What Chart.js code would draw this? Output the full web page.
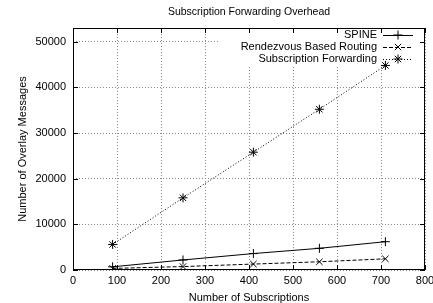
<!DOCTYPE html>
<html>
<head>
<meta charset="utf-8">
<script src="https://cdn.jsdelivr.net/npm/chart.js@4/dist/chart.umd.min.js"></script>
<style>
  html, body { margin: 0; padding: 0; background: #fff; }
  #wrap { width: 433px; height: 303px; }
</style>
</head>
<body>
<div id="wrap"><canvas id="myChart" width="433" height="303"></canvas></div>
<script>
// values
let subscriptions = [90, 250, 410, 560, 710];
let spine = [700, 2200, 3600, 4750, 6200];
let rendezvous = [350, 750, 1300, 1800, 2450];
let subForwarding = [5600, 15800, 25800, 35200, 44800];

let xTicks = [0, 100, 200, 300, 400, 500, 600, 700, 800];
let yTicks = [0, 10000, 20000, 30000, 40000, 50000];

let seriesNames = ["SPINE", "Rendezvous Based Routing", "Subscription Forwarding"];
let chartTitle = "Subscription Forwarding Overhead";
let xTitle = "Number of Subscriptions";
let yTitle = "Number of Overlay Messages";

let fontName = "'Liberation Sans', Arial, sans-serif";

function toPoints(ys) {
    let pts = [];
    for (let i = 0; i < subscriptions.length; i++) {
        pts.push({x: subscriptions[i], y: ys[i]});
    }
    return pts;
}

let dashes = [[], [4, 2], [1, 2]];
let markers = ["cross", "crossRot", "star"];

// gnuplot-like frame, inward ticks, title and legend
let gnuFrame = {
    id: "gnuFrame",
    beforeDatasetsDraw(chart) {
        let ctx = chart.ctx;
        ctx.save();
        ctx.fillStyle = "#fff";
        ctx.fillRect(218, 29, chart.chartArea.right - 219, 36);
        ctx.restore();
    },
    afterDraw(chart) {
        let ctx = chart.ctx;
        let a = chart.chartArea;
        let xs = chart.scales.x;
        let ys = chart.scales.y;
        ctx.save();
        ctx.strokeStyle = "#000";
        ctx.lineWidth = 1;
        ctx.setLineDash([]);
        ctx.strokeRect(a.left + 0.5, a.top + 0.5, a.right - a.left - 1, a.bottom - a.top - 1);
        ctx.beginPath();
        xTicks.forEach(v => {
            let px = Math.round(xs.getPixelForValue(v)) + 0.5;
            ctx.moveTo(px, a.bottom); ctx.lineTo(px, a.bottom - 5);
            ctx.moveTo(px, a.top); ctx.lineTo(px, a.top + 5);
        });
        yTicks.forEach(v => {
            let py = Math.round(ys.getPixelForValue(v)) + 0.5;
            ctx.moveTo(a.left, py); ctx.lineTo(a.left + 5, py);
            ctx.moveTo(a.right, py); ctx.lineTo(a.right - 5, py);
        });
        ctx.stroke();

        ctx.fillStyle = "#000";
        ctx.font = "10.5px " + fontName;
        ctx.textAlign = "center";
        ctx.textBaseline = "middle";
        ctx.fillText(chartTitle, (a.left + a.right) / 2, 12);

        ctx.font = "11px " + fontName;
        ctx.textAlign = "right";
        for (let i = 0; i < seriesNames.length; i++) {
            let y = 35 + i * 12;
            ctx.fillText(seriesNames[i], 377, y);
            ctx.beginPath();
            ctx.setLineDash(dashes[i]);
            ctx.moveTo(383, y + 0.5);
            ctx.lineTo(413, y + 0.5);
            ctx.stroke();
            ctx.setLineDash([]);
            Chart.helpers.drawPoint(ctx, {
                pointStyle: markers[i], radius: 4.5, rotation: 0, borderWidth: 1
            }, 398, y);
        }
        ctx.restore();
    }
};

let datasets = [spine, rendezvous, subForwarding].map((ys, i) => ({
    label: seriesNames[i],
    data: toPoints(ys),
    borderColor: "#000",
    backgroundColor: "#000",
    borderWidth: 1,
    borderDash: dashes[i],
    pointStyle: markers[i],
    pointRadius: 4.5,
    pointBorderWidth: 1,
    pointBorderColor: "#000",
    tension: 0
}));

let config = {
    type: "line",
    data: {datasets: datasets},
    options: {
        responsive: false,
        animation: false,
        layout: {padding: {top: 28, right: 8, left: 0, bottom: 0}},
        plugins: {legend: {display: false}, title: {display: false}, tooltip: {enabled: false}},
        scales: {
            x: {
                type: "linear",
                min: 0,
                max: 800,
                afterBuildTicks: function (scale) {
                    scale.ticks = xTicks.map(v => ({value: v}));
                },
                ticks: {
                    color: "#000", font: {family: fontName, size: 11}, padding: 4, maxRotation: 0, autoSkip: false,
                    callback: v => String(v)
                },
                grid: {color: "#888", drawTicks: false, lineWidth: 1},
                border: {display: false, dash: [1, 2]},
                title: {display: true, text: xTitle, color: "#000", font: {family: fontName, size: 11}, padding: {top: 0, bottom: -2}},
                afterFit: function (scale) {
                    scale.height = 33;
                    scale.paddingLeft = 0;
                    scale.paddingRight = 0;
                }
            },
            y: {
                type: "linear",
                min: 0,
                max: 53000,
                afterBuildTicks: function (scale) {
                    scale.ticks = yTicks.map(v => ({value: v}));
                },
                ticks: {
                    color: "#000", font: {family: fontName, size: 11}, padding: 7, autoSkip: false,
                    callback: v => String(v)
                },
                grid: {color: "#888", drawTicks: false, lineWidth: 1},
                border: {display: false, dash: [1, 2]},
                title: {display: true, text: yTitle, color: "#000", font: {family: fontName, size: 11}, padding: {top: 16, bottom: 0}},
                afterFit: function (scale) {
                    scale.width = 73;
                    scale.paddingTop = 0;
                    scale.paddingBottom = 0;
                }
            }
        }
    },
    plugins: [gnuFrame]
};

let myChart = new Chart(document.getElementById("myChart"), config);
</script>
</body>
</html>
